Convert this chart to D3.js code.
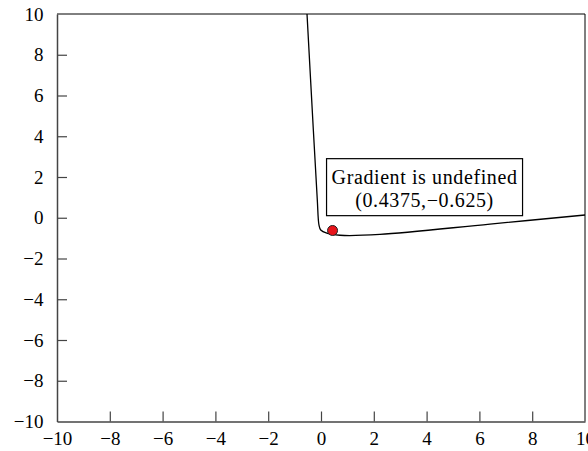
<!DOCTYPE html>
<html>
<head>
<meta charset="utf-8">
<script src="https://cdn.jsdelivr.net/npm/d3@7"></script>
<style>
  body { margin: 0; background: #fff; }
  svg text { font-family: "Liberation Serif", serif; }
</style>
</head>
<body>
<div id="graphContainer"></div>
<script>
// curve points
const curveX = [-0.53, -0.29, -0.14, -0.076, -0.01, 0.22, 0.72, 2.23, 6.4, 10];
const curveY = [10, 4.31, 0.87, -0.36, -0.6, -0.76, -0.86, -0.82, -0.31, 0.135];
const pointX = 0.4375, pointY = -0.625;
const xTicks = d3.range(-10, 11, 2);
const yTicks = d3.range(-10, 11, 2);
const noteLines = ["Gradient is undefined", "(0.4375,\u22120.625)"];

const margin = {top: 14, right: 3, bottom: 29.5, left: 57},
    width = 588 - margin.left - margin.right,
    height = 451 - margin.top - margin.bottom;

const svg = d3.select("#graphContainer").append("svg")
    .attr("width", 588)
    .attr("height", 451);

const g = svg.append("g")
    .attr("transform", "translate(" + margin.left + "," + margin.top + ")");

const x = d3.scaleLinear().domain([-10, 10]).range([0, width]);
const y = d3.scaleLinear().domain([-10, 10]).range([height, 0]);

// frame top + right
g.append("path")
    .attr("d", `M0,0H${width}V${height}`)
    .attr("fill", "none")
    .attr("stroke", "#000")
    .attr("stroke-width", 1);

const xAxis = g.append("g")
    .attr("transform", "translate(0," + height + ")")
    .call(d3.axisBottom(x).tickValues(xTicks).tickSizeInner(-10).tickSizeOuter(0).tickPadding(10.5));

const yAxis = g.append("g")
    .call(d3.axisLeft(y).tickValues(yTicks).tickSizeInner(-10).tickSizeOuter(0).tickPadding(13.5));

[xAxis, yAxis].forEach(a => {
    a.select(".domain").attr("stroke", "#444").attr("stroke-width", 1.5);
    a.selectAll(".tick line").attr("stroke", "#444").attr("stroke-width", 1.2);
    a.selectAll("text").attr("fill", "#000").style("font-size", "19px")
        .style("font-family", "Liberation Serif, serif");
});
xAxis.selectAll(".tick").filter(d => d === -10 || d === 10).select("line").remove();
yAxis.selectAll(".tick").filter(d => d === -10 || d === 10).select("line").remove();

const curveData = curveX.map((d, i) => [d, curveY[i]]);
g.append("path")
    .datum(curveData)
    .attr("fill", "none")
    .attr("stroke", "#000")
    .attr("stroke-width", 1.3)
    .attr("d", d3.line().x(d => x(d[0])).y(d => y(d[1])).curve(d3.curveCatmullRom.alpha(0.5)));

g.append("circle")
    .attr("cx", x(pointX))
    .attr("cy", y(pointY))
    .attr("r", 5)
    .attr("fill", "#e8141b")
    .attr("stroke", "#222")
    .attr("stroke-width", 1);

// annotation box
const note = g.append("g").attr("transform", `translate(${x(0.4375) - 6},${y(2.9)})`);
note.append("rect")
    .attr("width", 196)
    .attr("height", 57)
    .attr("fill", "#fff")
    .attr("stroke", "#000")
    .attr("stroke-width", 1.2);
note.selectAll("text")
    .data(noteLines)
    .enter()
    .append("text")
    .attr("x", 98)
    .attr("y", (d, i) => 25.5 + i * 23)
    .attr("text-anchor", "middle")
    .style("font-size", "20px")
    .style("letter-spacing", "0.6px")
    .text(d => d);
</script>
</body>
</html>
